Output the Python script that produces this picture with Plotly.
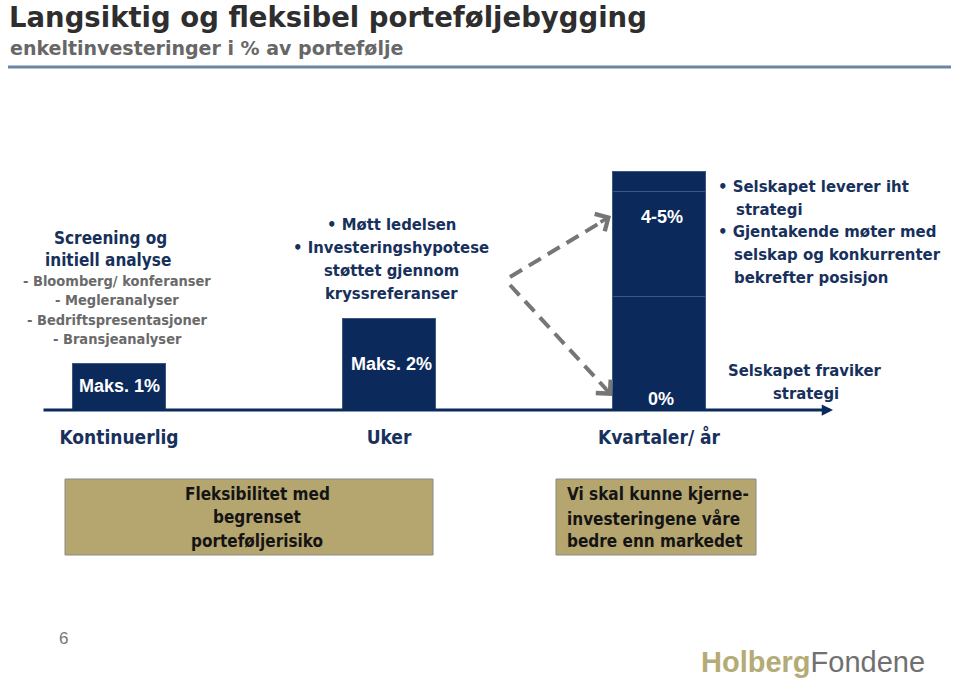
import plotly.graph_objects as go

# ---------------- data ----------------
categories = ["Kontinuerlig", "Uker", "Kvartaler/ år"]
bar_labels = ["Maks. 1%", "Maks. 2%", "4-5%"]
base_segment = [0.95, 1.91, 2.37]      # bar heights (bar 3 bottom part)
mid_segment = [2.20]                  # bar 3 middle part
top_segment = [0.42]                  # bar 3 top part
zero_label = "0%"

# page geometry
OX, OY = 0, 0
FW, FH = 959, 689
PB = 409                 # page y of the baseline
PX_PER_UNIT = 47.6
CAT_STEP = 270
CAT0 = 119               # page x of the first category

NAVY = "#0b2a5b"
TEXT_NAVY = "#17305c"
GRAY = "#6a6a6a"
KHAKI = "#b5a56f"


def px(x):
    return (x - OX) / FW


def py(y):
    return (PB - y) / (PB - OY)


fig = go.Figure()
bar_w = 0.341
bar_line = dict(color="#3b5783", width=1)
fig.add_trace(go.Bar(x=categories, y=base_segment, width=bar_w,
                     marker=dict(color=NAVY, line=bar_line), hoverinfo="skip"))
fig.add_trace(go.Bar(x=categories[2:], y=mid_segment, width=bar_w,
                     marker=dict(color=NAVY, line=bar_line), hoverinfo="skip"))
fig.add_trace(go.Bar(x=categories[2:], y=top_segment, width=bar_w,
                     marker=dict(color=NAVY, line=bar_line), hoverinfo="skip"))

ann = []
shapes = []

COND = "'DejaVu Sans Condensed', 'DejaVu Sans', sans-serif"
DEJA = "'DejaVu Sans', sans-serif"
ARIAL = "'Liberation Sans', Arial, sans-serif"


def txt(x, y, s, size, color, weight="bold", anchor="center", family=COND):
    ann.append(dict(x=px(x), y=py(y), xref="paper", yref="paper", text=s,
                    showarrow=False, xanchor=anchor, yanchor="middle",
                    font=dict(size=size, color=color, family=family, weight=weight)))


# title + subtitle
txt(7, 17, "Langsiktig og fleksibel porteføljebygging", 27.5, "#2e2e2e",
    anchor="left", family=DEJA)
txt(8, 48, "enkeltinvesteringer i % av portefølje", 19, "#676767",
    anchor="left", family=DEJA)
shapes.append(dict(type="line", xref="paper", yref="paper", x0=px(8), x1=px(951),
                   y0=py(67), y1=py(67), line=dict(color="#6b87a3", width=3)))

# block 1
txt(110, 238, "Screening og", 17, TEXT_NAVY)
txt(108, 260, "initiell analyse", 17, TEXT_NAVY)
for yy, s in [(281, "- Bloomberg/ konferanser"), (300, "- Megleranalyser"),
              (320, "- Bedriftspresentasjoner"), (339, "- Bransjeanalyser")]:
    txt(117, yy, s, 14.5, GRAY)

# block 2
for yy, s in [(225, "• Møtt ledelsen"), (247, "• Investeringshypotese"),
              (270, "støttet gjennom"), (293, "kryssreferanser")]:
    txt(391, yy, s, 16.5, TEXT_NAVY)

# block 3
for xx, yy, s in [(716, 186, "• Selskapet leverer iht"), (734, 209, "strategi"),
                  (716, 232, "• Gjentakende møter med"),
                  (732, 255, "selskap og konkurrenter"), (732, 277, "bekrefter posisjon")]:
    txt(xx, yy, s, 16.6, TEXT_NAVY, anchor="left")
txt(805, 370, "Selskapet fraviker", 16.5, TEXT_NAVY)
txt(806, 393, "strategi", 16.5, TEXT_NAVY)

# bar labels (data coords)
for i, lab in enumerate(bar_labels[:2]):
    ann.append(dict(x=i, y=base_segment[i] / 2, xref="x", yref="y", text=lab,
                    showarrow=False, xshift=2 if i == 1 else 0,
                    font=dict(size=18, color="white", family=ARIAL, weight="bold")))
ann.append(dict(x=2, y=4.03, xref="x", yref="y", text=bar_labels[2], showarrow=False,
                xshift=3, font=dict(size=18, color="white", family=ARIAL, weight="bold")))
ann.append(dict(x=2, y=0.2, xref="x", yref="y", text=zero_label, showarrow=False,
                xshift=2, font=dict(size=18, color="white", family=ARIAL, weight="bold")))

# axis arrow
ann.append(dict(x=px(833), y=py(410), xref="paper", yref="paper", text="",
                showarrow=True, ax=-791, ay=0, arrowhead=2, arrowsize=0.75,
                arrowwidth=3, arrowcolor=NAVY, standoff=0))

# dashed arrows
DASH_C = "#767676"
shapes.append(dict(type="line", xref="paper", yref="paper", x0=px(510), y0=py(277),
                   x1=px(603), y1=py(221), line=dict(color=DASH_C, width=4, dash="14px,8px")))
shapes.append(dict(type="line", xref="paper", yref="paper", x0=px(510), y0=py(285),
                   x1=px(606), y1=py(389), line=dict(color=DASH_C, width=4, dash="14px,8px")))
ann.append(dict(x=px(611), y=py(216), xref="paper", yref="paper", text="", showarrow=True,
                ax=-12, ay=7, arrowhead=4, arrowsize=1.1, arrowwidth=3.5,
                arrowcolor=DASH_C, standoff=0))
ann.append(dict(x=px(612), y=py(396), xref="paper", yref="paper", text="", showarrow=True,
                ax=-9, ay=-10, arrowhead=4, arrowsize=1.1, arrowwidth=3.5,
                arrowcolor=DASH_C, standoff=0))

# bottom boxes
for x0, x1 in [(65, 433), (556, 756)]:
    shapes.append(dict(type="rect", xref="paper", yref="paper", x0=px(x0), x1=px(x1),
                       y0=py(479), y1=py(555), fillcolor=KHAKI,
                       line=dict(color="#8a8a8a", width=1)))
for yy, s in [(494, "Fleksibilitet med"), (517, "begrenset"), (541, "porteføljerisiko")]:
    txt(257, yy, s, 17, "#141414")
for yy, s in [(494, "Vi skal kunne kjerne-"), (518, "investeringene våre"),
              (541, "bedre enn markedet")]:
    txt(565, yy, s, 17, "#141414", anchor="left")

# footer
txt(63, 638, "6", 17, "#777777", weight="normal", family=ARIAL)
ann.append(dict(x=px(699), y=py(662), xref="paper", yref="paper", showarrow=False,
                xanchor="left", yanchor="middle",
                text="<span style='color:#b5ab76'><b>Holberg</b></span>"
                     "<span style='color:#707070'>Fondene</span>",
                font=dict(size=29, family=ARIAL)))

c0 = CAT0 - OX
fig.update_layout(
    width=FW, height=FH,
    margin=dict(l=0, r=0, t=0, b=OY + FH - PB, pad=0),
    paper_bgcolor="white", plot_bgcolor="white",
    barmode="stack", showlegend=False,
    xaxis=dict(type="category", range=[-c0 / CAT_STEP, (FW - c0) / CAT_STEP],
               showgrid=False, zeroline=False, showline=False,
               ticks="outside", ticklen=11, tickcolor="rgba(0,0,0,0)",
               tickfont=dict(size=19, color=TEXT_NAVY, family=COND, weight="bold"),
               fixedrange=True),
    yaxis=dict(range=[0, (PB - OY) / PX_PER_UNIT], visible=False, fixedrange=True),
    annotations=ann, shapes=shapes,
)

fig.write_html("out.html",
               config={"displayModeBar": False},
               post_script="document.body.style.margin='0px';"
                           "document.body.style.overflow='hidden';")
